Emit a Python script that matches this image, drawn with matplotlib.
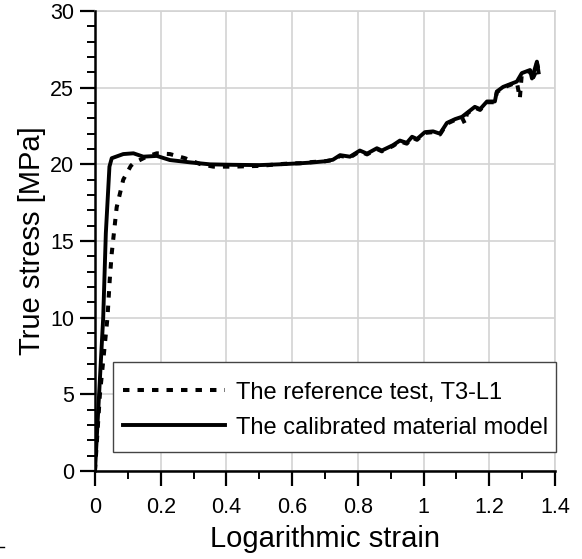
import numpy as np
import matplotlib.pyplot as plt
from matplotlib.patches import Rectangle
from matplotlib.lines import Line2D

plt.rcParams['font.family'] = ['Liberation Sans', 'DejaVu Sans']

# reference test T3-L1 (dotted)
test_strain = [0.0, 0.015, 0.038, 0.045, 0.051, 0.066, 0.086, 0.109, 0.117, 0.157,
               0.188, 0.228, 0.274, 0.32, 0.36, 0.42, 0.502, 0.553, 0.603, 0.624,
               0.66, 0.70, 0.724, 0.746, 0.776, 0.806, 0.828, 0.858, 0.873, 0.907,
               0.928, 0.949, 0.965, 0.98, 1.004, 1.029, 1.05, 1.071, 1.096, 1.117,
               1.126, 1.132, 1.156, 1.172, 1.193, 1.217, 1.223, 1.242, 1.272, 1.284,
               1.293, 1.299, 1.324, 1.33, 1.339, 1.345, 1.354]
test_stress = [0.0, 5.0, 10.0, 12.5, 14.2, 17.2, 19.0, 19.9, 20.07, 20.5,
               20.72, 20.67, 20.4, 20.02, 19.85, 19.85, 19.9, 20.0, 20.07, 20.07,
               20.15, 20.2, 20.28, 20.55, 20.45, 20.85, 20.65, 21.0, 20.85, 21.2,
               21.5, 21.35, 21.75, 21.6, 22.05, 22.1, 21.95, 22.65, 22.9, 23.05,
               22.65, 23.3, 23.7, 23.55, 24.05, 24.05, 24.7, 25.0, 25.25, 25.35,
               24.3, 25.9, 26.1, 25.5, 25.9, 26.6, 25.8]

# calibrated material model (solid)
model_strain = [0.0, 0.01, 0.025, 0.033, 0.044, 0.051, 0.086, 0.117, 0.147, 0.188,
                0.228, 0.289, 0.35, 0.42, 0.5, 0.56, 0.624, 0.66, 0.70, 0.724,
                0.746, 0.776, 0.806, 0.828, 0.858, 0.873, 0.907, 0.928, 0.949, 0.965,
                0.98, 1.004, 1.029, 1.05, 1.071, 1.096, 1.117, 1.132, 1.156, 1.172,
                1.193, 1.217, 1.223, 1.242, 1.272, 1.284, 1.299, 1.324, 1.33, 1.345,
                1.35]
model_stress = [0.0, 4.0, 10.0, 15.5, 19.85, 20.4, 20.67, 20.72, 20.5, 20.55,
                20.28, 20.13, 20.0, 19.97, 19.95, 20.0, 20.07, 20.12, 20.2, 20.3,
                20.6, 20.5, 20.9, 20.7, 21.05, 20.9, 21.25, 21.55, 21.4, 21.8,
                21.65, 22.1, 22.15, 22.0, 22.7, 22.95, 23.1, 23.35, 23.75, 23.6,
                24.1, 24.1, 24.75, 25.05, 25.3, 25.4, 25.95, 26.15, 25.6, 26.7,
                26.0]

fig = plt.figure(figsize=(5.82, 5.59), dpi=100)
ax = fig.add_axes([0.1632, 0.1574, 0.7904, 0.8229])

ax.plot(test_strain, test_stress, color='black', linestyle=(0, (1.6, 2.0)),
        linewidth=2.9, label='The reference test, T3-L1', zorder=3)
ax.plot(model_strain, model_stress, color='black', linestyle='-',
        linewidth=2.8, label='The calibrated material model', zorder=4)

ax.set_xlim(0, 1.4)
ax.set_ylim(0, 30)
ax.set_xticks(np.arange(0, 1.41, 0.2))
ax.set_xticks(np.arange(0, 1.41, 0.1), minor=True)
ax.set_yticks(np.arange(0, 31, 5))
ax.set_yticks(np.arange(0, 31, 1), minor=True)
ax.set_xticklabels(['0', '0.2', '0.4', '0.6', '0.8', '1', '1.2', '1.4'])

ax.grid(which='major', color='#d3d3d3', linewidth=1.2)
ax.set_axisbelow(True)

for s in ['top', 'right']:
    ax.spines[s].set_color('#d3d3d3')
    ax.spines[s].set_linewidth(1.2)
for s in ['left', 'bottom']:
    ax.spines[s].set_linewidth(1.8)
    ax.spines[s].set_zorder(5)

ax.tick_params(which='major', direction='out', length=11, width=1.6,
               labelsize=15.5)
ax.tick_params(axis='x', which='major', pad=8)
ax.tick_params(axis='y', which='major', pad=4)
ax.tick_params(which='minor', direction='out', length=6, width=1.4)

ax.set_xlabel('Logarithmic strain', fontsize=21, labelpad=4.5)
ax.set_ylabel('True stress [MPa]', fontsize=21, labelpad=3)

# legend box drawn separately so its padding can match the original
ax.add_patch(Rectangle((0.039, 0.041), 0.963, 0.196, transform=ax.transAxes,
                       facecolor='white', edgecolor='#444444', linewidth=1.0,
                       zorder=6, clip_on=False))
leg = ax.legend(loc='center left', bbox_to_anchor=(0.0609, 0.1326), fontsize=17,
                frameon=False, handlelength=4.3, handletextpad=0.5,
                borderpad=0, labelspacing=0.55, borderaxespad=0)
leg.set_zorder(7)

# stray mark at the lower left corner of the original image
fig.add_artist(Line2D([0, 3.5 / 582], [1 - 547 / 559] * 2, color='black',
                      linewidth=1.0))

plt.savefig('out.png', dpi=100)
